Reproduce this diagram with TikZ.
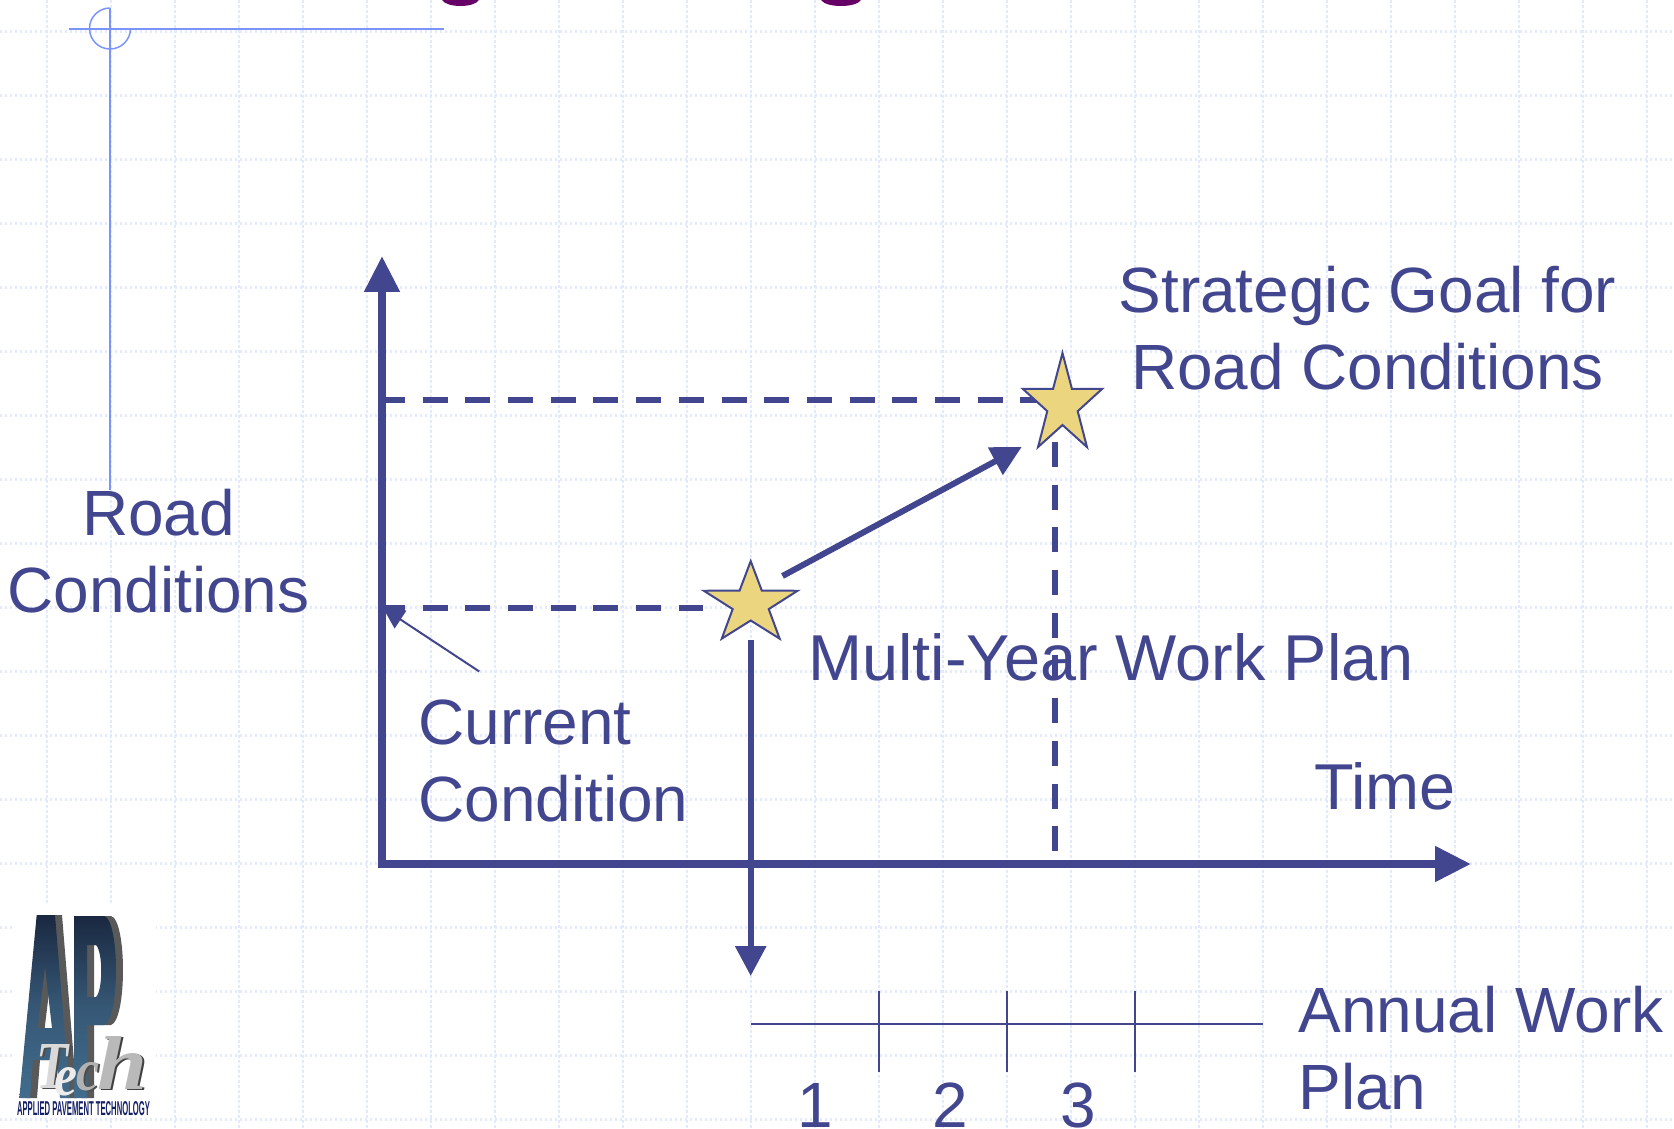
\documentclass[tikz,border=0pt]{standalone}
\usepackage{fontspec}
\setmainfont{Liberation Sans}
\newfontfamily\logoface{Liberation Serif}
\usetikzlibrary{arrows.meta, shapes.geometric}

\definecolor{planblue}{RGB}{65,70,142}
\definecolor{stargold}{RGB}{235,214,127}
\definecolor{gridblue}{RGB}{228,234,253}
\definecolor{hairblue}{RGB}{122,148,250}
\definecolor{titlepurple}{RGB}{102,0,102}
\definecolor{logonavy}{RGB}{26,40,64}
\definecolor{logosteel}{RGB}{66,108,140}

\tikzset{
  label/.style={text=planblue, inner sep=0pt, font=\fontsize{36.4}{43.8}\selectfont},
  axis/.style={draw=planblue, line width=0.16cm, -{Triangle[length=0.72cm, width=0.68cm]}},
  level/.style={draw=planblue, line width=0.125cm, dash pattern=on 0.5cm off 0.354cm},
  planarrow/.style={draw=planblue, line width=0.12cm, -{Triangle[length=0.6cm, width=0.6cm]}},
  thinline/.style={draw=planblue, line width=0.04cm},
  planstar/.style={shape=star, star points=5, star point ratio=2.6, minimum size=1.94cm,
    inner sep=0pt, outer sep=0pt, draw=planblue, line width=0.04cm, fill=stargold, transform shape},
  techletter/.style={inner sep=0pt, outer sep=0pt},
}

% one letter of the logo, fitted to a box of given size
\newcommand{\techglyph}[3]{\resizebox{#1}{#2}{\logoface\bfseries\itshape #3}}

\begin{document}
\begin{tikzpicture}[x=0.02cm, y=-0.02cm]
  \useasboundingbox (0,0) rectangle (1674,1129);

  % grid paper
  \foreach \gx in {0,...,25}
    \draw[gridblue, line width=0.045cm, dash pattern=on 0.06cm off 0.04cm] (46.7+64*\gx,0) -- (46.7+64*\gx,1129);
  \foreach \gy in {0,...,17}
    \draw[gridblue, line width=0.045cm, dash pattern=on 0.05cm off 0.05cm] (0,31.6+64*\gy) -- (1674,31.6+64*\gy);

  % leftovers of the cut title
  \fill[titlepurple] (442,0) .. controls (447,8) and (474,8) .. (479,0) -- cycle;
  \fill[titlepurple] (821,0) .. controls (826,8) and (856,8) .. (861,0) -- cycle;

  % guide lines top left
  \draw[hairblue, line width=0.05cm] (69,29) -- (444,29);
  \draw[hairblue, line width=0.03cm] (110,8) -- (110,490);
  \draw[hairblue, line width=0.03cm] (110,8) arc (-90:-360:20.5);

  % logo
  \fill[white] (14,905) rectangle (156,1118);
  \def\logoA{(19.3,1098) -- (36.7,915) -- (55,915) -- (70,1098) -- (60,1098) -- (57,1060) -- (33,1060) -- (30,1098) -- cycle
    (37.7,1028) -- (52,1028) -- (45,967) -- cycle}
  \def\logoP{(74,916) -- (104,916) .. controls (120,920) and (120,1020) .. (104,1025) -- (87,1025) -- (87,1098) -- (74,1098) -- cycle
    (87,945) -- (87,997) -- (96,997) .. controls (103,990) and (103,952) .. (96,945) -- cycle}
  \begin{scope}[shift={(7,0)}]
    \fill[gray!70!black, even odd rule] \logoA;
    \fill[gray!70!black, even odd rule] \logoP;
  \end{scope}
  \shade[top color=logonavy, bottom color=logosteel, middle color=logosteel!70!logonavy, even odd rule] \logoA;
  \shade[top color=logonavy, bottom color=logosteel, middle color=logosteel!70!logonavy, even odd rule] \logoP;
  % Tech, dark copy behind the silver letters
  \node[techletter, text=black!75] (techhshadow) at (124,1064) {\techglyph{1.0cm}{1.06cm}{h}};
  \node[techletter, text=black!70] (techcshadow) at (90,1078) {\techglyph{0.46cm}{0.56cm}{c}};
  \node[techletter, text=black!70] (techtshadow) at (54,1067) {\techglyph{0.64cm}{0.88cm}{T}};
  \node[techletter, text=gray!30] (techt) at (52,1066) {\techglyph{0.64cm}{0.88cm}{T}};
  \node[techletter, text=gray!15] (teche) at (66,1082) {\techglyph{0.46cm}{0.56cm}{e}};
  \node[techletter, text=gray!60] (techc) at (88,1077) {\techglyph{0.46cm}{0.56cm}{c}};
  \node[techletter, text=gray!55] (techh) at (122,1063) {\techglyph{1.0cm}{1.06cm}{h}};
  \node[inner sep=0pt, text=logonavy!80!blue] (logoname) at (83.5,1109)
    {\resizebox{2.66cm}{0.28cm}{\bfseries APPLIED PAVEMENT TECHNOLOGY}};

  % axes
  \coordinate (origin) at (382,864);
  \coordinate (ytip) at (382,256);
  \coordinate (xtip) at (1471,864);
  \draw[axis] (378,864) -- (xtip);
  \draw[axis] (origin) -- (ytip);

  % level lines
  \coordinate (goalleft) at (380,400);
  \coordinate (goalend) at (1040,400);
  \coordinate (currentleft) at (380,608);
  \coordinate (currentend) at (703,608);
  \coordinate (goaldrop) at (1054.8,442);
  \coordinate (goalfoot) at (1054.8,863);
  \draw[level] (goalleft) -- (goalend);
  \draw[level] (currentleft) -- (currentend);
  \draw[level] (goaldrop) -- (goalfoot);

  % stars
  \coordinate (currentpt) at (750.7,604);
  \coordinate (goalpt) at (1062.5,405);
  \node[planstar, xscale=1.016, yscale=0.884] (currentstar) at (currentpt) {};
  \node[planstar, xscale=0.858, yscale=1.072] (goalstar) at (goalpt) {};

  % arrows
  \coordinate (planstart) at (782.5,576);
  \coordinate (plantip) at (1021.7,447);
  \coordinate (annualstart) at (750.7,640);
  \coordinate (annualtip) at (750.7,976);
  \draw[planarrow] (planstart) -- (plantip);
  \draw[planarrow] (annualstart) -- (annualtip);
  \coordinate (leaderstart) at (479.3,671.5);
  \coordinate (leadertip) at (383,608);
  \draw[thinline, -{Triangle[length=0.42cm, width=0.42cm]}] (leaderstart) -- (leadertip);

  % annual plan scale
  \coordinate (scaleleft) at (750.5,1024);
  \coordinate (scaleright) at (1263,1024);
  \draw[thinline] (scaleleft) -- (scaleright);
  \foreach \tx in {878.6,1006.7,1134.8}
    \draw[thinline] (\tx,990.7) -- (\tx,1072);

  % labels
  \node[label, align=center] (roadlabel) at (158.5,551) {Road\\Conditions};
  \node[label, align=center] (goallabel) at (1367.5,328) {Strategic Goal for\\Road Conditions};
  \node[label, anchor=base west, font=\fontsize{36.9}{43.8}\selectfont] (planlabel) at (808,680) {Multi-Year Work Plan};
  \node[label, align=left] (currentlabel) at (553.5,760.5) {Current\\Condition};
  \node[label, anchor=base west, font=\fontsize{36.9}{43.8}\selectfont] (timelabel) at (1314,809) {Time};
  \node[label, align=left, anchor=west] (annuallabel) at (1298,1048) {Annual Work\\Plan};
  \node[label, anchor=base] (yearone) at (815,1127) {1};
  \node[label, anchor=base] (yeartwo) at (950,1127) {2};
  \node[label, anchor=base] (yearthree) at (1078,1127) {3};
\end{tikzpicture}
\end{document}
